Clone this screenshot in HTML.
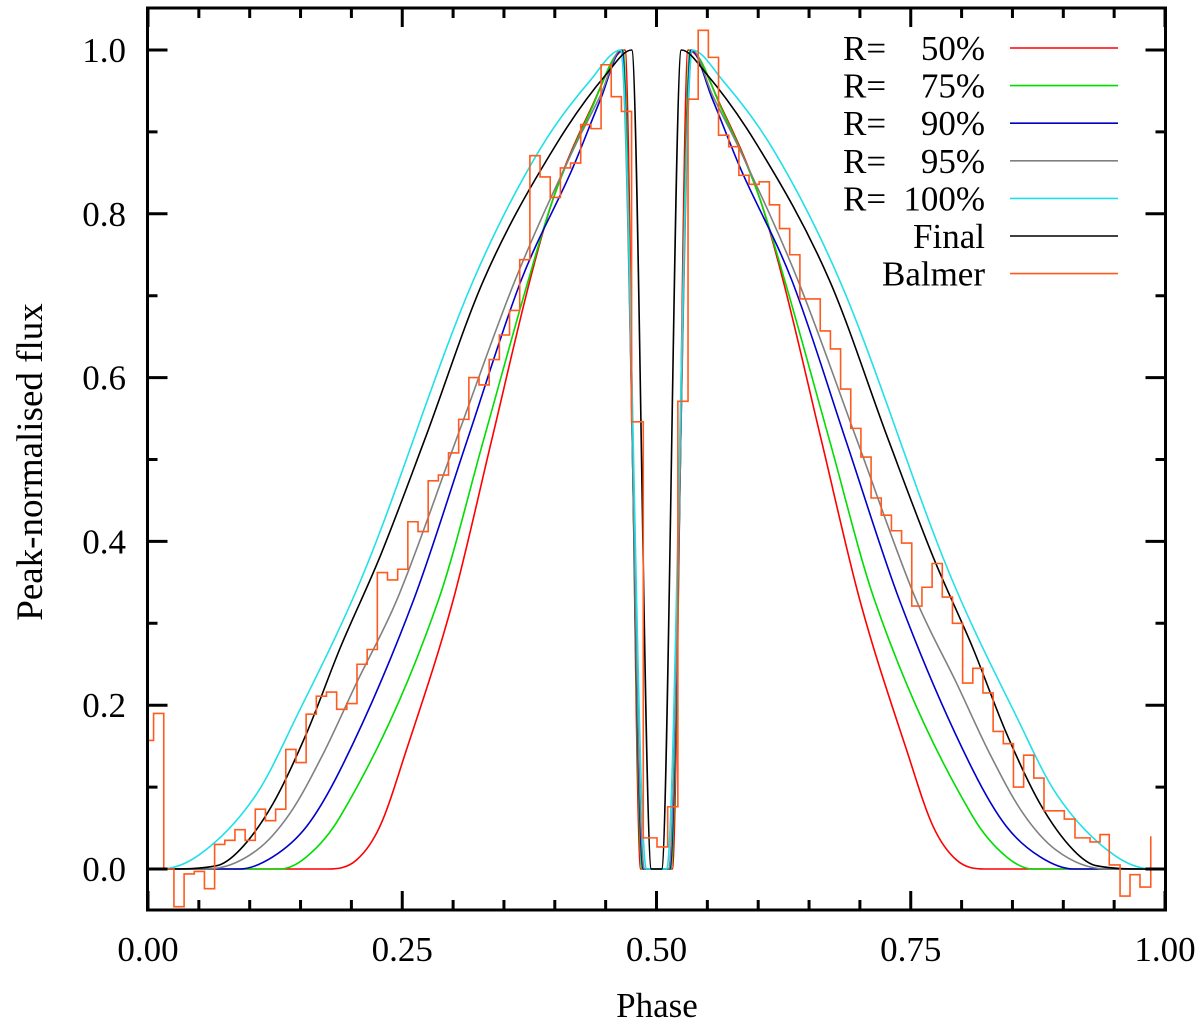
<!DOCTYPE html>
<html><head><meta charset="utf-8"><style>
html,body{margin:0;padding:0;background:#fff;}
svg{display:block;font-family:"Liberation Serif",serif;}
</style></head><body>
<svg id="chart" width="1200" height="1023" viewBox="0 0 1200 1023" xmlns="http://www.w3.org/2000/svg">
<defs><clipPath id="plotclip"><rect x="148" y="8" width="1017" height="902"/></clipPath></defs>
<g id="series" clip-path="url(#plotclip)"></g>
<g id="axes"></g>
<g id="legend"></g>
<text x="657" y="1017" font-size="35" text-anchor="middle">Phase</text>
<text x="0" y="0" font-size="37" text-anchor="middle" transform="translate(42,462) rotate(-90)">Peak-normalised flux</text>
</svg>
<script>
// ---- data ----
const xTicks = [0, 0.25, 0.5, 0.75, 1.0];
const xTickLabels = ["0.00", "0.25", "0.50", "0.75", "1.00"];
const yTicks = [0, 0.2, 0.4, 0.6, 0.8, 1.0];
const yTickLabels = ["0.0", "0.2", "0.4", "0.6", "0.8", "1.0"];

const redPhase = [0,0.177,0.205,0.228,0.254,0.300,0.338,0.3756,0.398,0.435,0.469,0.4845,0.5155,0.531,0.565,0.602,0.6244,0.662,0.700,0.746,0.772,0.795,0.823,1.0];
const redFlux  = [0,0,0.011,0.052,0.145,0.328,0.524,0.719,0.817,0.927,1.0,0,0,1.0,0.927,0.817,0.719,0.524,0.328,0.145,0.052,0.011,0,0];
const greenPhase = [0,0.130,0.156,0.189,0.2855,0.330,0.374,0.398,0.435,0.467,0.486,0.514,0.533,0.565,0.602,0.626,0.670,0.7145,0.811,0.844,0.870,1.0];
const greenFlux  = [0,0,0.015,0.064,0.328,0.524,0.719,0.817,0.925,1.0,0,0,1.0,0.925,0.817,0.719,0.524,0.328,0.064,0.015,0,0];
const bluePhase = [0,0.09,0.123,0.156,0.189,0.261,0.314,0.367,0.418,0.445,0.466,0.487,0.513,0.534,0.555,0.582,0.633,0.686,0.739,0.811,0.844,0.877,0.91,1.0];
const blueFlux  = [0,0,0.015,0.052,0.121,0.328,0.524,0.719,0.857,0.94,1.0,0,0,1.0,0.94,0.857,0.719,0.524,0.328,0.121,0.052,0.015,0,0];
const grayPhase = [0,0.058,0.107,0.1396,0.172,0.205,0.2445,0.303,0.361,0.418,0.445,0.465,0.488,0.512,0.535,0.555,0.582,0.639,0.697,0.7555,0.795,0.828,0.8604,0.893,0.942,1.0];
const grayFlux  = [0,0,0.023,0.068,0.140,0.227,0.328,0.524,0.719,0.878,0.945,1.0,0,0,1.0,0.945,0.878,0.719,0.524,0.328,0.227,0.140,0.068,0.023,0,0];
const cyanPhase = [0,0.012,0.05,0.107,0.146,0.210,0.320,0.385,0.435,0.465,0.490,0.510,0.535,0.565,0.615,0.680,0.790,0.854,0.893,0.95,0.988,1.0];
const cyanFlux  = [0,0,0.017,0.092,0.186,0.355,0.719,0.878,0.963,1.0,0,0,1.0,0.963,0.878,0.719,0.355,0.186,0.092,0.017,0,0];
const finalPhase = [0,0.02,0.0675,0.090,0.123,0.156,0.189,0.228,0.272,0.330,0.402,0.451,0.4756,0.495,0.505,0.5244,0.549,0.598,0.670,0.728,0.772,0.811,0.844,0.877,0.910,0.9325,0.98,1.0];
const finalFlux  = [0,0,0.004,0.023,0.080,0.166,0.270,0.381,0.524,0.719,0.886,0.971,1.0,0,0,1.0,0.971,0.886,0.719,0.524,0.381,0.270,0.166,0.080,0.023,0.004,0,0];

const balmerEdges = [0,0.0055,0.0155,0.0255,0.0355,0.0455,0.0555,0.0655,0.0755,0.0855,0.0955,0.1055,0.1155,0.1255,0.1355,0.1455,0.1555,0.1655,0.1755,0.1855,0.1955,0.2055,0.2155,0.2255,0.2355,0.2455,0.2555,0.2655,0.2755,0.2855,0.2955,0.3055,0.3155,0.3255,0.3355,0.3455,0.3555,0.3655,0.3755,0.3855,0.3955,0.4055,0.4155,0.4255,0.4355,0.4455,0.4555,0.4655,0.4755,0.487,0.5005,0.511,0.521,0.531,0.541,0.551,0.561,0.571,0.581,0.591,0.601,0.611,0.621,0.631,0.641,0.651,0.661,0.671,0.681,0.691,0.701,0.711,0.721,0.731,0.741,0.751,0.761,0.771,0.781,0.791,0.801,0.811,0.821,0.831,0.841,0.851,0.861,0.871,0.881,0.891,0.901,0.9115,0.9263,0.9361,0.9452,0.9558,0.9656,0.9754,0.986];
const balmerFlux = [0.157,0.190,0.0,-0.046,-0.006,-0.003,-0.024,0.030,0.035,0.048,0.035,0.073,0.059,0.073,0.146,0.130,0.189,0.211,0.216,0.195,0.202,0.250,0.268,0.362,0.353,0.366,0.424,0.412,0.474,0.481,0.508,0.549,0.600,0.591,0.622,0.652,0.682,0.744,0.871,0.845,0.820,0.856,0.862,0.909,0.904,0.982,0.943,0.925,0.546,0.038,0.027,0.076,0.571,0.940,1.024,0.991,0.896,0.882,0.847,0.836,0.839,0.811,0.782,0.750,0.696,0.696,0.657,0.635,0.586,0.538,0.503,0.453,0.432,0.413,0.398,0.321,0.344,0.373,0.332,0.300,0.227,0.245,0.215,0.168,0.153,0.100,0.139,0.111,0.071,0.071,0.061,0.038,0.033,0.042,0.005,-0.033,-0.007,-0.022,0.040];

// ---- scales ----
const X0 = 148, X1 = 1165, Y0 = 869, Y1 = 50;
function sx(p){ return X0 + (X1 - X0) * p; }
function sy(v){ return Y0 - (Y0 - Y1) * v; }
const NS = "http://www.w3.org/2000/svg";
function mk(tag, attrs){ const e = document.createElementNS(NS, tag); for (const k in attrs) e.setAttribute(k, attrs[k]); return e; }

function monoPath(xs, ys){
  const n = xs.length, px = xs.map(sx), py = ys.map(sy);
  const d = [], m = [];
  for (let i=0;i<n-1;i++) d.push((py[i+1]-py[i])/(px[i+1]-px[i]));
  m[0]=d[0]; m[n-1]=d[n-2];
  for (let i=1;i<n-1;i++){ m[i] = (d[i-1]*d[i] <= 0) ? 0 : (d[i-1]+d[i])/2; }
  for (let i=0;i<n-1;i++){
    if (d[i]===0){ m[i]=0; m[i+1]=0; continue; }
    const a=m[i]/d[i], b=m[i+1]/d[i], s=a*a+b*b;
    if (s>9){ const t=3/Math.sqrt(s); m[i]=t*a*d[i]; m[i+1]=t*b*d[i]; }
  }
  let s = "M"+px[0].toFixed(2)+","+py[0].toFixed(2);
  for (let i=0;i<n-1;i++){
    const h=(px[i+1]-px[i])/3;
    s += " C"+(px[i]+h).toFixed(2)+","+(py[i]+m[i]*h).toFixed(2)+" "+(px[i+1]-h).toFixed(2)+","+(py[i+1]-m[i+1]*h).toFixed(2)+" "+px[i+1].toFixed(2)+","+py[i+1].toFixed(2);
  }
  return s;
}

const series = document.getElementById('series');
const curves = [
  {name:'r50-curve', c:'#ff0000', x:redPhase, y:redFlux},
  {name:'r75-curve', c:'#00dd00', x:greenPhase, y:greenFlux},
  {name:'r90-curve', c:'#0000cc', x:bluePhase, y:blueFlux},
  {name:'r95-curve', c:'#808080', x:grayPhase, y:grayFlux},
  {name:'r100-curve', c:'#22e0e8', x:cyanPhase, y:cyanFlux},
  {name:'final-curve', c:'#000000', x:finalPhase, y:finalFlux}
];
curves.forEach(cv => {
  const p = mk('path', {d: monoPath(cv.x, cv.y), fill:'none', stroke:cv.c, 'stroke-width':1.6});
  
  
  series.appendChild(p);
});
let bd = "M"+sx(balmerEdges[0])+","+sy(balmerFlux[0]);
for (let i=1;i<balmerEdges.length;i++){
  bd += " L"+sx(balmerEdges[i]).toFixed(2)+","+sy(balmerFlux[i-1]).toFixed(2);
  bd += " L"+sx(balmerEdges[i]).toFixed(2)+","+sy(balmerFlux[i]).toFixed(2);
}
const bp = mk('path', {d: bd, fill:'none', stroke:'#ff5a1f', 'stroke-width':1.6});


series.appendChild(bp);

// ---- axes ----
const axes = document.getElementById('axes');
const frame = mk('rect', {x:147.5, y:8, width:1018, height:902, fill:'none', stroke:'#000', 'stroke-width':3});


axes.appendChild(frame);
let td = "";
for (let k=0;k<=20;k++){
  const p = k*0.05, x = sx(p), major = (k%5===0), L = major?19:10;
  td += "M"+x+",910 v-"+L+" M"+x+",8 v"+L+" ";
}
for (let k=0;k<=10;k++){
  const v = k*0.1, y = sy(v), major = (k%2===0), L = major?20:10;
  td += "M147.5,"+y+" h"+L+" M1165.5,"+y+" h-"+L+" ";
}
const ticks = mk('path', {d: td, stroke:'#000', 'stroke-width':3, fill:'none'});


axes.appendChild(ticks);
xTicks.forEach((p,i) => {
  const t = mk('text', {x: sx(p), y: 961, 'font-size': 35, 'text-anchor':'middle'});
  t.textContent = xTickLabels[i];
  
  
  axes.appendChild(t);
});
yTicks.forEach((v,i) => {
  const t = mk('text', {x: 126, y: sy(v)+12, 'font-size': 35, 'text-anchor':'end'});
  t.textContent = yTickLabels[i];
  
  
  axes.appendChild(t);
});

// ---- legend ----
const legendLabels = ["50%","75%","90%","95%","100%","Final","Balmer"];
const legendColors = ['#ff0000','#00dd00','#0000cc','#808080','#22e0e8','#000000','#ff5a1f'];
const legend = document.getElementById('legend');
legendLabels.forEach((lab,i) => {
  const y = 48 + i*37.6;
  const g = mk('g', {});
  
  
  if (i < 5){
    const r = mk('text', {x: 843, y: y+12, 'font-size': 35});
    r.textContent = "R=";
    g.appendChild(r);
  }
  const t = mk('text', {x: 985, y: y+12, 'font-size': 35, 'text-anchor':'end'});
  t.textContent = lab;
  g.appendChild(t);
  const ln = mk('line', {x1:1010, x2:1118, y1:y, y2:y, stroke:legendColors[i], 'stroke-width':1.6});
  g.appendChild(ln);
  legend.appendChild(g);
});
</script>
</body></html>
